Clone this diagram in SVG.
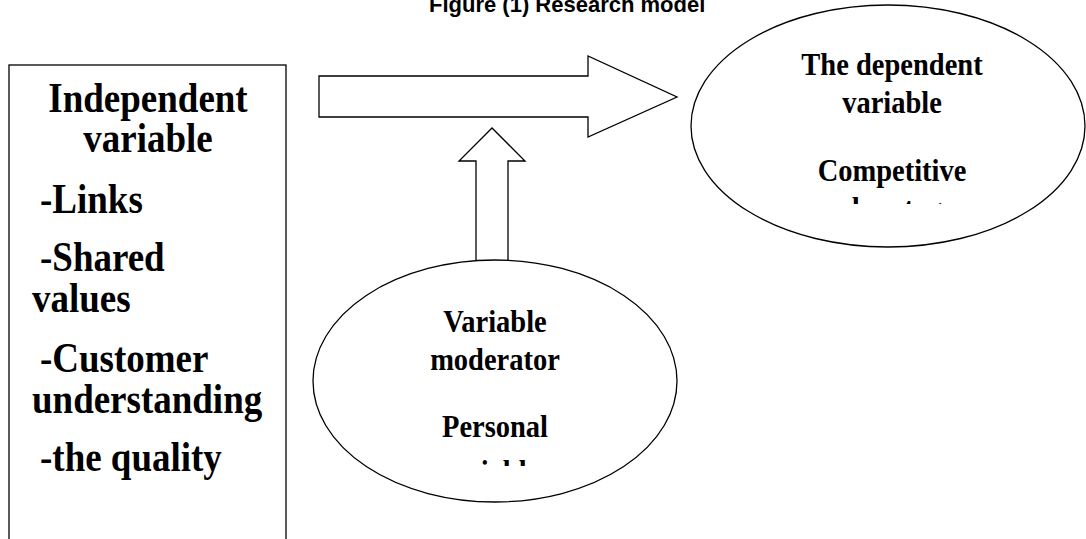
<svg xmlns="http://www.w3.org/2000/svg" width="1086" height="539" viewBox="0 0 1086 539">
  <style>
    .shape { fill: #ffffff; stroke: #000000; stroke-width: 1.3; }
    .big { font-family: "Liberation Serif", "Times New Roman", serif; font-weight: bold; font-size: 37px; fill: #000; }
    .mid { font-family: "Liberation Serif", "Times New Roman", serif; font-weight: bold; font-size: 28.5px; fill: #000; text-anchor: middle; }
    .title { font-family: "Liberation Sans", Arial, sans-serif; font-weight: bold; font-size: 22px; fill: #000; }
  </style>
  <defs>
    <clipPath id="clipDep"><rect x="600" y="0" width="486" height="204"/></clipPath>
    <clipPath id="clipMod"><rect x="300" y="250" width="400" height="216"/></clipPath>
  </defs>
  <rect x="0" y="0" width="1086" height="539" fill="#ffffff"/>

  <g id="title">
    <text class="title" x="429" y="12">Figure (1) Research model</text>
  </g>

  <g id="connectors">
    <polygon class="shape" points="319,76 588,76 588,56 677,97 588,137 588,117 319,117"/>
    <polygon class="shape" points="476,261 476,161 459,161 492,128 525,161 508,161 508,261"/>
  </g>

  <g id="independent">
    <rect class="shape" x="9" y="65" width="277" height="500"/>
    <text class="big" text-anchor="middle" transform="matrix(1 0 0 1.12 148 112)">Independent</text>
    <text class="big" text-anchor="middle" transform="matrix(1 0 0 1.12 148 152)">variable</text>
    <text class="big" transform="matrix(1 0 0 1.12 40 213)">-Links</text>
    <text class="big" transform="matrix(1 0 0 1.12 40 271)">-Shared</text>
    <text class="big" transform="matrix(1 0 0 1.12 32 312)">values</text>
    <text class="big" transform="matrix(1 0 0 1.12 40 372)">-Customer</text>
    <text class="big" transform="matrix(1 0 0 1.12 32 413)">understanding</text>
    <text class="big" transform="matrix(1 0 0 1.12 40 471)">-the quality</text>
  </g>

  <g id="dependent">
    <ellipse class="shape" cx="888" cy="126" rx="197" ry="121"/>
    <text class="mid" transform="matrix(1 0 0 1.08 892 75)">The dependent</text>
    <text class="mid" transform="matrix(1 0 0 1.08 892 113)">variable</text>
    <text class="mid" transform="matrix(1 0 0 1.08 892 181)">Competitive</text>
    <g clip-path="url(#clipDep)">
      <text class="mid" transform="matrix(1 0 0 1.08 892 219)">advantage</text>
    </g>
  </g>

  <g id="moderator">
    <ellipse class="shape" cx="495" cy="381" rx="182" ry="121"/>
    <text class="mid" transform="matrix(1 0 0 1.08 495 332)">Variable</text>
    <text class="mid" transform="matrix(1 0 0 1.08 495 370)">moderator</text>
    <text class="mid" transform="matrix(1 0 0 1.08 495 437)">Personal</text>
    <g clip-path="url(#clipMod)">
      <text class="mid" transform="matrix(1 0 0 1.08 495 482)">variables</text>
    </g>
  </g>
</svg>
